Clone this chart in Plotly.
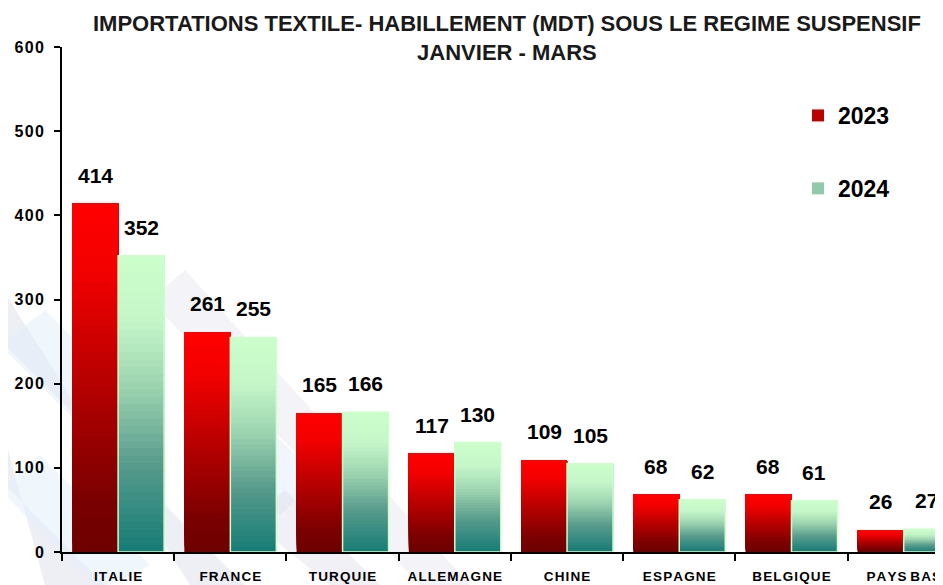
import plotly.graph_objects as go

categories = ["ITALIE", "FRANCE", "TURQUIE", "ALLEMAGNE", "CHINE", "ESPAGNE", "BELGIQUE", "PAYS BAS"]
values_2023 = [414, 261, 165, 117, 109, 68, 68, 26]
values_2024 = [352, 255, 166, 130, 105, 62, 61, 27]
series_names = ["2023", "2024"]
y_ticks = [0, 100, 200, 300, 400, 500, 600]

title_text = "IMPORTATIONS TEXTILE- HABILLEMENT (MDT) SOUS LE REGIME SUSPENSIF<br>JANVIER - MARS"

BOLD = "Liberation Sans, Arial, sans-serif"

# the page body has an 8px margin: figure pixel = reference pixel - 8
OFF = 8
W, H = 943 - OFF, 585 - OFF
ML, MT = 62 - OFF, 47 - OFF
PLOT_BOTTOM = 552 - OFF
MR, MB = 0, H - PLOT_BOTTOM
PW, PH = W - ML - MR, PLOT_BOTTOM - MT

# gradient stops (t = 0 bottom, 1 top)
red_stops = [(0.0, (110, 0, 0)), (0.15, (122, 0, 0)), (0.5, (185, 0, 0)), (0.8, (242, 0, 0)), (1.0, (255, 0, 0))]
green_stops = [(0.0, (22, 124, 118)), (0.3, (88, 155, 140)), (0.55, (155, 210, 175)), (0.78, (196, 246, 200)), (1.0, (204, 255, 204))]


def interp(stops, t):
    for (t0, c0), (t1, c1) in zip(stops[:-1], stops[1:]):
        if t0 <= t <= t1:
            f = (t - t0) / (t1 - t0) if t1 > t0 else 0
            return "rgb(%d,%d,%d)" % tuple(round(a + (b - a) * f) for a, b in zip(c0, c1))
    return "rgb(%d,%d,%d)" % stops[-1][1]


def spaced(s, sep="\u200a"):
    return " ".join(sep.join(list(w)) for w in s.split(" "))


# reference pixel -> paper coordinates
def P(px, py):
    return ((px - OFF - ML) / PW, (PLOT_BOTTOM - (py - OFF)) / PH)


N = 40
fig = go.Figure()

for name, vals, stops, grp in [(series_names[0], values_2023, red_stops, "a"),
                               (series_names[1], values_2024, green_stops, "b")]:
    for k in range(N):
        t = (k + 0.5) / N
        # each slice runs from its own start up to the bar top; later slices cover the upper part
        fig.add_trace(go.Bar(
            x=categories,
            y=[v * (N - k) / N for v in vals],
            base=[v * k / N for v in vals],
            offsetgroup=grp,
            marker=dict(color=interp(stops, t), line=dict(width=0)),
            name=name,
            legendgroup=name,
            showlegend=(k == N // 2),
            hoverinfo="skip",
        ))

# light outline on 2024 bars
fig.add_trace(go.Bar(
    x=categories, y=values_2024, base=[0] * len(values_2024), offsetgroup="b",
    marker=dict(color="rgba(0,0,0,0)", line=dict(color="#CCFFCC", width=1.5)),
    showlegend=False, hoverinfo="skip",
))

# value labels
annotations = []
for vals, xs in [(values_2023, -23), (values_2024, 23)]:
    for c, v in zip(categories, vals):
        annotations.append(dict(
            x=c, y=v, xref="x", yref="y", text=str(v), showarrow=False,
            xshift=xs, yshift=15, yanchor="bottom",
            font=dict(family=BOLD, size=21, color="black", weight="bold"),
        ))

# title
tx, ty = P(507, 38)
annotations.append(dict(
    x=tx, y=ty, xref="paper", yref="paper", xanchor="center", yanchor="middle",
    text=title_text, showarrow=False,
    font=dict(family=BOLD, size=22, color="#1a1a1a", weight="bold"),
))


def poly(points, color):
    pts = [P(x, y) for x, y in points]
    path = "M " + " L ".join("%.4f,%.4f" % p for p in pts) + " Z"
    return dict(type="path", xref="paper", yref="paper", path=path,
                fillcolor=color, line=dict(width=0), layer="below")


shapes = [
    poly([(0, 285), (0, 340), (245, 585), (190, 585)], "rgba(222,222,236,0.5)"),
    poly([(0, 420), (0, 480), (105, 585), (45, 585)], "rgba(222,222,236,0.5)"),
    poly([(0, 345), (45, 310), (150, 415), (105, 450)], "rgba(225,238,250,0.55)"),
    poly([(0, 490), (40, 455), (150, 565), (110, 585), (95, 585)], "rgba(228,240,250,0.55)"),
    poly([(150, 300), (185, 270), (470, 585), (420, 585)], "rgba(225,226,238,0.4)"),
    poly([(200, 430), (240, 400), (320, 480), (280, 515)], "rgba(225,238,250,0.5)"),
    poly([(250, 520), (285, 490), (380, 585), (330, 585)], "rgba(222,222,236,0.45)"),
]

lx, ly = P(798, 94)
fig.update_layout(
    width=W, height=H,
    margin=dict(l=ML, r=MR, t=MT, b=MB, pad=0),
    paper_bgcolor="white",
    plot_bgcolor="rgba(0,0,0,0)",
    barmode="group",
    bargap=0.18,
    bargroupgap=0,
    legend=dict(
        x=lx, xanchor="left", y=ly, yanchor="top",
        bgcolor="rgba(0,0,0,0)", tracegroupgap=40,
        font=dict(family=BOLD, size=23, color="black", weight="bold"),
    ),
    xaxis=dict(
        type="category", range=[-0.5, 7.35], automargin=False, tickangle=0,
        tickmode="array", tickvals=categories, ticktext=[spaced(c) for c in categories],
        tickson="boundaries", ticks="outside", ticklen=7, tickwidth=2, tickcolor="black",
        showline=True, linewidth=2, linecolor="black", showgrid=False,
        tickfont=dict(family=BOLD, size=13.5, color="black", weight="bold"),
        ticklabelstandoff=11,
    ),
    yaxis=dict(
        range=[0, 600], tickmode="array", tickvals=y_ticks, automargin=False,
        ticktext=[spaced(str(v)) for v in y_ticks],
        ticks="outside", ticklen=6, tickwidth=2, tickcolor="black",
        showline=True, linewidth=2, linecolor="black", showgrid=False, zeroline=False,
        tickfont=dict(family=BOLD, size=16, color="black", weight="bold"),
        ticklabelstandoff=7,
    ),
    annotations=annotations,
    shapes=shapes,
)

fig.write_html("out.html")
